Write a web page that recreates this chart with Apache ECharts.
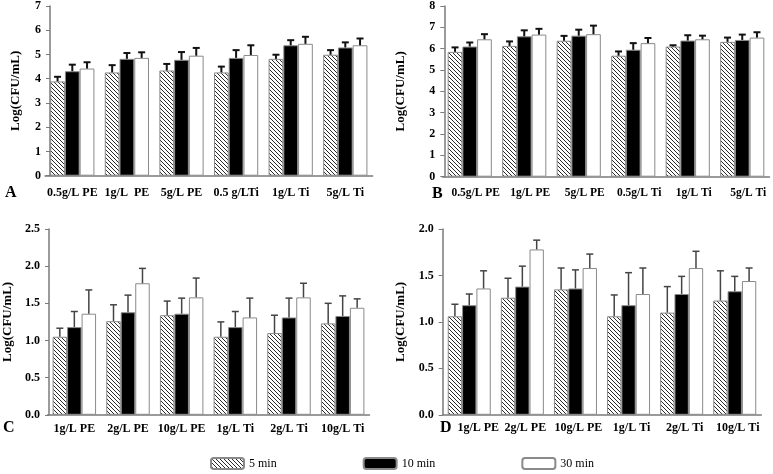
<!DOCTYPE html>
<html>
<head>
<meta charset="utf-8">
<script src="https://cdn.jsdelivr.net/npm/echarts@6/dist/echarts.min.js"></script>
<style>
html,body{margin:0;padding:0;background:#fff;}
#c{width:773px;height:474px;}
</style>
</head>
<body>
<div id="c"></div>
<script>
// ---------- DATA ----------
const seriesNames = ['5 min', '10 min', '30 min'];

const catsA = ['0.5g/L PE', '1g/L  PE', '5g/L PE', '0.5 g/LTi', '1g/L Ti', '5g/L Ti'];
const a5   = [3.89, 4.26, 4.34, 4.26, 4.82, 4.99];
const a10  = [4.31, 4.82, 4.78, 4.86, 5.38, 5.29];
const a30  = [4.42, 4.86, 4.95, 4.98, 5.44, 5.38];
const a5e  = [0.19, 0.30, 0.27, 0.24, 0.17, 0.19];
const a10e = [0.27, 0.24, 0.32, 0.32, 0.21, 0.21];
const a30e = [0.26, 0.23, 0.32, 0.40, 0.29, 0.28];

const catsB = ['0.5g/L PE', '1g/L PE', '5g/L PE', '0.5g/L Ti', '1g/L Ti', '5g/L Ti'];
const b5   = [5.85, 6.13, 6.37, 5.67, 6.10, 6.32];
const b10  = [6.10, 6.58, 6.61, 5.95, 6.38, 6.41];
const b30  = [6.44, 6.66, 6.68, 6.26, 6.44, 6.52];
const b5e  = [0.21, 0.21, 0.23, 0.20, 0.06, 0.20];
const b10e = [0.19, 0.28, 0.28, 0.31, 0.25, 0.25];
const b30e = [0.24, 0.27, 0.40, 0.24, 0.17, 0.25];

const catsC = ['1g/L PE', '2g/L PE', '10g/L PE', '1g/L Ti', '2g/L Ti', '10g/L Ti'];
const c5   = [1.05, 1.26, 1.34, 1.05, 1.10, 1.23];
const c10  = [1.18, 1.38, 1.36, 1.18, 1.31, 1.33];
const c30  = [1.36, 1.77, 1.58, 1.31, 1.58, 1.44];
const c5e  = [0.115, 0.22, 0.19, 0.20, 0.24, 0.27];
const c10e = [0.21, 0.23, 0.21, 0.21, 0.26, 0.27];
const c30e = [0.32, 0.20, 0.26, 0.26, 0.19, 0.12];

const catsD = ['1g/L PE', '2g/L PE', '10g/L PE', '1g/L Ti', '2g/L Ti', '10g/L Ti'];
const d5   = [1.06, 1.26, 1.35, 1.06, 1.10, 1.23];
const d10  = [1.18, 1.38, 1.36, 1.18, 1.30, 1.33];
const d30  = [1.36, 1.78, 1.58, 1.30, 1.58, 1.44];
const d5e  = [0.13, 0.21, 0.23, 0.23, 0.28, 0.32];
const d10e = [0.12, 0.22, 0.20, 0.35, 0.19, 0.16];
const d30e = [0.19, 0.10, 0.15, 0.28, 0.18, 0.14];

const yMaxA = 7, yMaxB = 8, yMaxC = 2.5, yMaxD = 2.0;
const yStepA = 1, yStepB = 1, yStepC = 0.5, yStepD = 0.5;
const panelLetters = ['A', 'B', 'C', 'D'];

// ---------- STYLE ----------
const FONT = "'Liberation Serif', 'Times New Roman', serif";
const AXIS_COLOR = '#7a7a7a';
const GAP = 0.19;

function hatch() {
  const cv = document.createElement('canvas');
  cv.width = 4; cv.height = 4;
  const ctx = cv.getContext('2d');
  ctx.fillStyle = '#ffffff';
  ctx.fillRect(0, 0, 4, 4);
  ctx.strokeStyle = '#2a2a2a';
  ctx.lineWidth = 1;
  ctx.beginPath();
  ctx.moveTo(-1, -1); ctx.lineTo(5, 5);
  ctx.moveTo(-1, 3); ctx.lineTo(1, 5);
  ctx.moveTo(3, -1); ctx.lineTo(5, 1);
  ctx.stroke();
  return cv;
}
const hatchPattern = { image: hatch(), repeat: 'repeat' };
const fills = [hatchPattern, '#000000', '#ffffff'];

const panels = [
  { cats: catsA, vals: [a5, a10, a30], errs: [a5e, a10e, a30e], max: yMaxA, step: yStepA, dec: 0,
    grid: { left: 45, top: 4.3, width: 327.6, height: 171.4 }, yOff: -5, nameGap: 28, labMargin: 11,
    labSize: 12, labPad: [0, 0, 0, 0], firstPad: 0, errW: 2, errC: '#111' },
  { cats: catsB, vals: [b5, b10, b30], errs: [b5e, b10e, b30e], max: yMaxB, step: yStepB, dec: 0,
    grid: { left: 442.5, top: 6, width: 327, height: 170.7 }, yOff: -1.8, nameGap: 37, labMargin: 10,
    labSize: 11.5, labPad: [0, 0, 0, 12], firstPad: 0, errW: 2, errC: '#111' },
  { cats: catsC, vals: [c5, c10, c30], errs: [c5e, c10e, c30e], max: yMaxC, step: yStepC, dec: 1,
    grid: { left: 46.5, top: 229, width: 323, height: 185.8 }, yOff: -1.5, nameGap: 35, labMargin: 8,
    labSize: 12, labPad: [0, 0, 0, 0], firstPad: 0, errW: 1.5, errC: '#444' },
  { cats: catsD, vals: [d5, d10, d30], errs: [d5e, d10e, d30e], max: yMaxD, step: yStepD, dec: 1,
    grid: { left: 442.7, top: 229, width: 318.6, height: 185.8 }, yOff: 0, nameGap: 36, labMargin: 7,
    labSize: 12, labPad: [0, 0, 0, 6], firstPad: 12, errW: 1.5, errC: '#444' }
];

function errRenderer(si, w, c) {
  return function (params, api) {
    const cat = api.value(0), v = api.value(1), e = api.value(2);
    const band = api.size([1, 0])[0];
    const barW = band * (1 - GAP) / 3;
    const p = api.coord([cat, v]);
    const x = p[0] + (si - 1) * barW;
    const top = api.coord([cat, v + e])[1];
    const cap = 3.5;
    const st = { stroke: c, lineWidth: w, fill: null };
    return {
      type: 'group',
      children: [
        { type: 'line', shape: { x1: x, y1: p[1], x2: x, y2: top }, style: st },
        { type: 'line', shape: { x1: x - cap, y1: top, x2: x + cap, y2: top }, style: st }
      ]
    };
  };
}

const grids = [], xAxes = [], yAxes = [], series = [];
panels.forEach((pn, gi) => {
  grids.push(Object.assign({ containLabel: false }, pn.grid));
  xAxes.push({
    type: 'category', gridIndex: gi, data: pn.cats,
    axisLine: { show: true, lineStyle: { color: AXIS_COLOR, width: 1.5 } },
    axisTick: { show: false },
    axisLabel: { interval: 0, margin: pn.labMargin, color: '#000', fontFamily: FONT, fontWeight: 'bold',
      fontSize: pn.labSize, padding: pn.labPad,
      formatter: (v, i) => (i === 0 && pn.firstPad) ? '{f|' + v + '}' : v,
      rich: { f: { color: '#000', fontFamily: FONT, fontWeight: 'bold', fontSize: pn.labSize,
        padding: [0, 0, 0, pn.firstPad] } } },
    splitLine: { show: false }
  });
  yAxes.push({
    type: 'value', gridIndex: gi, min: 0, max: pn.max, interval: pn.step, offset: pn.yOff,
    name: 'Log(CFU/mL)', nameLocation: 'middle', nameGap: pn.nameGap, nameRotate: 90,
    nameTextStyle: { color: '#000', fontFamily: FONT, fontWeight: 'bold', fontSize: 13 },
    axisLine: { show: true, lineStyle: { color: AXIS_COLOR, width: 1.5 } },
    axisTick: { show: true, inside: false, length: 4, lineStyle: { color: AXIS_COLOR, width: 1 } },
    axisLabel: { margin: 9, color: '#000', fontFamily: FONT, fontWeight: 'bold', fontSize: 12,
      formatter: v => v.toFixed(pn.dec) },
    splitLine: { show: false }
  });
  pn.vals.forEach((vals, si) => {
    series.push({
      type: 'bar', name: seriesNames[si], xAxisIndex: gi, yAxisIndex: gi,
      data: vals, barGap: '0%', barCategoryGap: (GAP * 100) + '%',
      itemStyle: { color: fills[si], borderColor: '#8a8a8a', borderWidth: 1 },
      emphasis: { disabled: true }, animation: false
    });
  });
  pn.vals.forEach((vals, si) => {
    series.push({
      type: 'custom', name: 'err' + gi + '_' + si, xAxisIndex: gi, yAxisIndex: gi,
      data: vals.map((v, i) => [i, v, pn.errs[si][i]]),
      encode: { x: 0, y: 1 }, z: 5,
      renderItem: errRenderer(si, pn.errW, pn.errC), animation: false, silent: true
    });
  });
});

const letterPos = [[5, 185], [432, 186], [3, 420], [440, 420]];
const chart = echarts.init(document.getElementById('c'), null, { renderer: 'canvas' });
chart.setOption({
  backgroundColor: '#ffffff',
  animation: false,
  grid: grids, xAxis: xAxes, yAxis: yAxes, series: series,
  legend: {
    data: seriesNames, left: 205, top: 452, itemWidth: 33, itemHeight: 11, itemGap: 86,
    selectedMode: false,
    textStyle: { color: '#000', fontFamily: FONT, fontSize: 12 }
  },
  graphic: panelLetters.map((t, i) => ({
    type: 'text', left: letterPos[i][0], top: letterPos[i][1],
    style: { text: t, font: "bold 16px " + FONT, fill: '#000' }
  }))
});
</script>
</body>
</html>
